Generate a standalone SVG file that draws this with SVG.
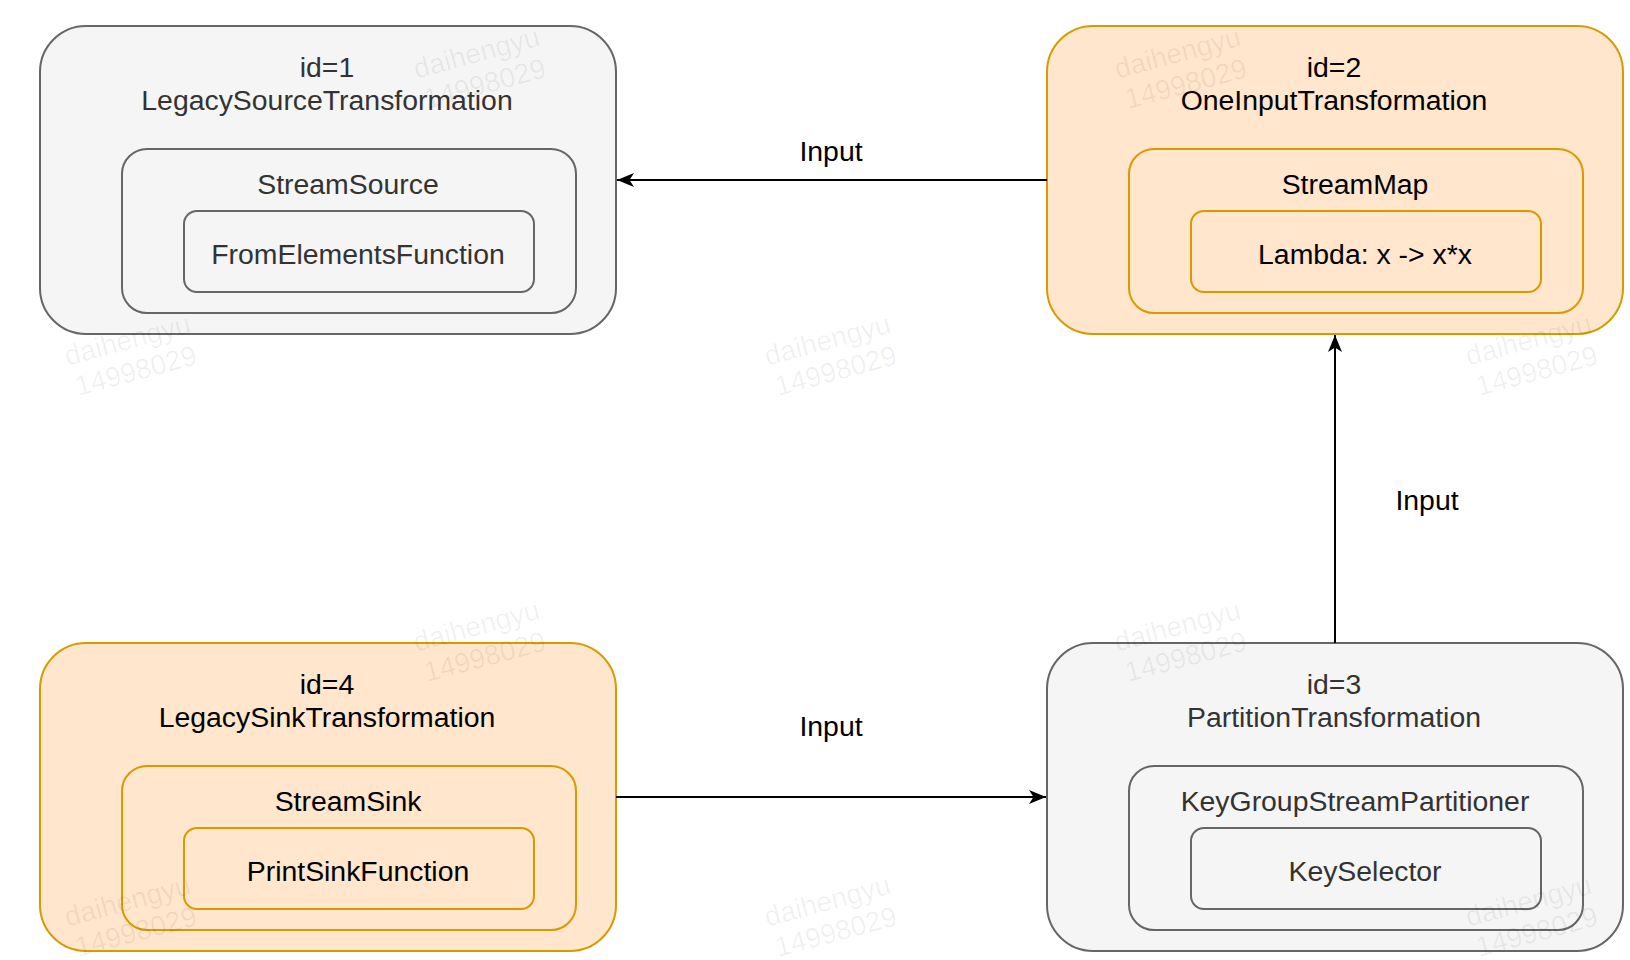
<svg xmlns="http://www.w3.org/2000/svg" width="1630" height="960" viewBox="0 0 1630 960">
<defs>
<style>
.g{fill:#f5f5f5;stroke:#666666;stroke-width:2}
.o{fill:#ffe6cc;stroke:#d79b00;stroke-width:2}
text{font-family:"Liberation Sans",Arial,Helvetica,sans-serif;font-size:28.4px;text-anchor:middle}
.tg{fill:#333333}
.to{fill:#000000}
.edge{fill:none;stroke:#000000;stroke-width:2}
.lbl{fill:#000000}
.wm{fill:#000000;fill-opacity:0.06;font-size:28px}
</style>
<marker id="arr" markerWidth="20" markerHeight="16" refX="18" refY="8" orient="auto" markerUnits="userSpaceOnUse">
<path d="M1,1 L18,8 L1,15 L5.5,8 Z" fill="#000000"/>
</marker>
</defs>
<rect width="1630" height="960" fill="#ffffff"/>

<g id="node1">
<rect class="g" x="40" y="26" width="576" height="308" rx="46" ry="46"/>
<text class="tg" x="327" y="77">id=1</text>
<text class="tg" x="327" y="110">LegacySourceTransformation</text>
<rect class="g" x="122" y="149" width="454" height="164" rx="25" ry="25"/>
<text class="tg" x="348" y="194">StreamSource</text>
<rect class="g" x="184" y="211" width="350" height="81" rx="13" ry="13"/>
<text class="tg" x="358" y="264">FromElementsFunction</text>
</g>

<g id="node2">
<rect class="o" x="1047" y="26" width="576" height="308" rx="46" ry="46"/>
<text class="to" x="1334" y="77">id=2</text>
<text class="to" x="1334" y="110">OneInputTransformation</text>
<rect class="o" x="1129" y="149" width="454" height="164" rx="25" ry="25"/>
<text class="to" x="1355" y="194">StreamMap</text>
<rect class="o" x="1191" y="211" width="350" height="81" rx="13" ry="13"/>
<text class="to" x="1365" y="264">Lambda: x -&gt; x*x</text>
</g>

<g id="node3">
<rect class="g" x="1047" y="643" width="576" height="308" rx="46" ry="46"/>
<text class="tg" x="1334" y="694">id=3</text>
<text class="tg" x="1334" y="727">PartitionTransformation</text>
<rect class="g" x="1129" y="766" width="454" height="164" rx="25" ry="25"/>
<text class="tg" x="1355" y="811">KeyGroupStreamPartitioner</text>
<rect class="g" x="1191" y="828" width="350" height="81" rx="13" ry="13"/>
<text class="tg" x="1365" y="881">KeySelector</text>
</g>

<g id="node4">
<rect class="o" x="40" y="643" width="576" height="308" rx="46" ry="46"/>
<text class="to" x="327" y="694">id=4</text>
<text class="to" x="327" y="727">LegacySinkTransformation</text>
<rect class="o" x="122" y="766" width="454" height="164" rx="25" ry="25"/>
<text class="to" x="348" y="811">StreamSink</text>
<rect class="o" x="184" y="828" width="350" height="81" rx="13" ry="13"/>
<text class="to" x="358" y="881">PrintSinkFunction</text>
</g>

<g id="connectors">
<line class="edge" x1="1047" y1="180" x2="617" y2="180" marker-end="url(#arr)"/>
<text class="lbl" x="831" y="161">Input</text>
<line class="edge" x1="1335" y1="643" x2="1335" y2="335" marker-end="url(#arr)"/>
<text class="lbl" x="1427" y="510">Input</text>
<line class="edge" x1="616" y1="797" x2="1046" y2="797" marker-end="url(#arr)"/>
<text class="lbl" x="831" y="736">Input</text>
</g>

<g id="watermarks">
<g transform="translate(479,62) rotate(-15)"><text class="wm" x="0" y="0">daihengyu</text><text class="wm" x="0" y="32">14998029</text></g>
<g transform="translate(1180,62) rotate(-15)"><text class="wm" x="0" y="0">daihengyu</text><text class="wm" x="0" y="32">14998029</text></g>
<g transform="translate(130,349) rotate(-15)"><text class="wm" x="0" y="0">daihengyu</text><text class="wm" x="0" y="32">14998029</text></g>
<g transform="translate(830,349) rotate(-15)"><text class="wm" x="0" y="0">daihengyu</text><text class="wm" x="0" y="32">14998029</text></g>
<g transform="translate(1531,349) rotate(-15)"><text class="wm" x="0" y="0">daihengyu</text><text class="wm" x="0" y="32">14998029</text></g>
<g transform="translate(479,635) rotate(-15)"><text class="wm" x="0" y="0">daihengyu</text><text class="wm" x="0" y="32">14998029</text></g>
<g transform="translate(1180,635) rotate(-15)"><text class="wm" x="0" y="0">daihengyu</text><text class="wm" x="0" y="32">14998029</text></g>
<g transform="translate(130,910) rotate(-15)"><text class="wm" x="0" y="0">daihengyu</text><text class="wm" x="0" y="32">14998029</text></g>
<g transform="translate(830,910) rotate(-15)"><text class="wm" x="0" y="0">daihengyu</text><text class="wm" x="0" y="32">14998029</text></g>
<g transform="translate(1531,910) rotate(-15)"><text class="wm" x="0" y="0">daihengyu</text><text class="wm" x="0" y="32">14998029</text></g>
</g>
</svg>
